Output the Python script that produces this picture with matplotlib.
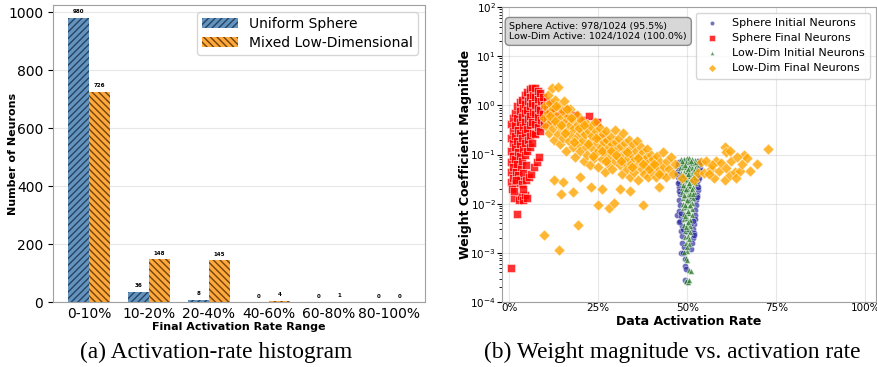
import numpy as np
import matplotlib
matplotlib.use("Agg")
import matplotlib.pyplot as plt
from matplotlib.ticker import PercentFormatter

## **DATA**
# panel (a): histogram of final activation rates
bins = ["0-10%", "10-20%", "20-40%", "40-60%", "60-80%", "80-100%"]
sphere_counts = [980, 36, 8, 0, 0, 0]
lowdim_counts = [726, 148, 145, 4, 1, 0]

# panel (b): (activation rate, weight magnitude)
sphere_initial = [
    (0.476, 0.072), (0.474, 0.055), (0.472, 0.045), (0.475, 0.035), (0.478, 0.028), (0.477, 0.022),
    (0.479, 0.016), (0.470, 0.0058), (0.478, 0.012), (0.480, 0.0095), (0.476, 0.0072), (0.483, 0.0055),
    (0.481, 0.0045), (0.485, 0.0035), (0.482, 0.0028), (0.486, 0.0022), (0.484, 0.0016), (0.483, 0.0010),
    (0.488, 0.0010), (0.491, 0.0013), (0.493, 0.00075), (0.495, 0.00055), (0.497, 0.00048),
    (0.495, 0.00028), (0.499, 0.00025), (0.530, 0.075), (0.532, 0.060), (0.533, 0.048), (0.531, 0.038),
    (0.530, 0.030), (0.528, 0.024), (0.529, 0.019), (0.527, 0.015), (0.526, 0.012), (0.524, 0.0095),
    (0.523, 0.0075), (0.521, 0.006), (0.522, 0.0048), (0.519, 0.0038), (0.517, 0.0030), (0.520, 0.0025),
    (0.515, 0.0020), (0.512, 0.0016), (0.510, 0.0012), (0.495, 0.075), (0.510, 0.060), (0.500, 0.040),
    (0.515, 0.030), (0.490, 0.020), (0.505, 0.012), (0.495, 0.006), (0.510, 0.004), (0.500, 0.0026),
    (0.486, 0.060), (0.520, 0.045), (0.473, 0.065), (0.471, 0.040), (0.474, 0.026), (0.476, 0.018),
    (0.534, 0.068), (0.535, 0.052), (0.533, 0.034), (0.531, 0.022), (0.528, 0.0135), (0.482, 0.0065),
    (0.478, 0.0042), (0.487, 0.0030), (0.516, 0.0045), (0.519, 0.0023),
]
sphere_final = [
    (0.004, 0.42), (0.004, 0.22), (0.004, 0.12), (0.004, 0.07), (0.005, 0.045), (0.006, 0.028),
    (0.010, 0.55), (0.010, 0.30), (0.010, 0.17), (0.011, 0.095), (0.010, 0.055), (0.012, 0.034),
    (0.016, 0.70), (0.016, 0.40), (0.017, 0.24), (0.016, 0.14), (0.017, 0.08), (0.018, 0.045), (0.017, 0.026),
    (0.023, 0.95), (0.023, 0.55), (0.024, 0.32), (0.023, 0.19), (0.024, 0.11), (0.023, 0.065), (0.025, 0.038),
    (0.030, 1.15), (0.030, 0.75), (0.031, 0.45), (0.030, 0.27), (0.031, 0.16), (0.030, 0.095), (0.032, 0.055),
    (0.031, 0.032), (0.037, 1.30), (0.038, 0.90), (0.037, 0.58), (0.038, 0.36), (0.037, 0.22), (0.038, 0.13),
    (0.037, 0.075), (0.039, 0.042), (0.044, 1.60), (0.045, 1.05), (0.044, 0.70), (0.045, 0.45), (0.044, 0.28),
    (0.045, 0.17), (0.044, 0.10), (0.046, 0.06), (0.051, 1.85), (0.052, 1.25), (0.051, 0.82), (0.052, 0.52),
    (0.051, 0.33), (0.052, 0.20), (0.051, 0.12), (0.058, 2.10), (0.059, 1.45), (0.058, 0.95), (0.059, 0.62),
    (0.058, 0.40), (0.059, 0.24), (0.058, 0.14), (0.065, 2.30), (0.066, 1.60), (0.065, 1.10), (0.066, 0.72),
    (0.065, 0.46), (0.066, 0.28), (0.065, 0.17), (0.072, 2.20), (0.073, 1.50), (0.072, 1.00), (0.073, 0.66),
    (0.072, 0.42), (0.073, 0.26), (0.080, 2.00), (0.081, 1.35), (0.080, 0.90), (0.081, 0.58), (0.080, 0.36),
    (0.088, 1.75), (0.089, 1.20), (0.088, 0.80), (0.089, 0.50), (0.088, 0.30), (0.096, 1.50), (0.097, 1.00),
    (0.096, 0.68), (0.097, 0.42), (0.105, 1.25), (0.106, 0.85), (0.105, 0.55), (0.115, 1.05), (0.116, 0.70),
    (0.115, 0.45), (0.128, 0.90), (0.130, 0.60), (0.145, 0.75), (0.160, 0.85), (0.168, 0.55), (0.185, 0.65),
    (0.205, 0.50), (0.225, 0.62), (0.248, 0.45), (0.262, 0.22),
    (0.006, 0.00049), (0.022, 0.0062), (0.013, 0.013), (0.027, 0.012), (0.033, 0.014), (0.038, 0.012),
    (0.045, 0.015), (0.050, 0.013), (0.008, 0.020), (0.015, 0.018), (0.020, 0.030), (0.035, 0.025),
    (0.048, 0.030), (0.055, 0.035), (0.062, 0.040), (0.070, 0.055), (0.078, 0.070), (0.085, 0.09), (0.040, 0.020),
]
lowdim_initial = [
    (0.482, 0.080), (0.490, 0.082), (0.498, 0.084), (0.506, 0.083), (0.514, 0.081), (0.522, 0.078),
    (0.480, 0.065), (0.488, 0.068), (0.496, 0.070), (0.504, 0.069), (0.512, 0.067), (0.520, 0.066), (0.527, 0.062),
    (0.481, 0.052), (0.489, 0.055), (0.497, 0.057), (0.505, 0.056), (0.513, 0.054), (0.521, 0.053), (0.528, 0.050),
    (0.482, 0.042), (0.490, 0.044), (0.498, 0.046), (0.506, 0.045), (0.514, 0.043), (0.522, 0.041),
    (0.483, 0.034), (0.491, 0.036), (0.499, 0.037), (0.507, 0.036), (0.515, 0.035), (0.523, 0.033),
    (0.484, 0.027), (0.492, 0.029), (0.500, 0.030), (0.508, 0.029), (0.516, 0.028), (0.522, 0.026),
    (0.485, 0.021), (0.493, 0.023), (0.501, 0.024), (0.509, 0.023), (0.517, 0.022),
    (0.486, 0.017), (0.494, 0.018), (0.502, 0.019), (0.510, 0.018), (0.518, 0.017),
    (0.487, 0.013), (0.495, 0.014), (0.503, 0.015), (0.511, 0.014), (0.517, 0.013),
    (0.488, 0.010), (0.496, 0.011), (0.504, 0.0115), (0.512, 0.0105),
    (0.489, 0.0080), (0.497, 0.0085), (0.505, 0.0088), (0.513, 0.0078),
    (0.490, 0.0062), (0.498, 0.0066), (0.506, 0.0064), (0.512, 0.0058),
    (0.491, 0.0048), (0.499, 0.0050), (0.507, 0.0047), (0.492, 0.0037), (0.500, 0.0039), (0.508, 0.0035),
    (0.493, 0.0028), (0.501, 0.0030), (0.507, 0.0026), (0.494, 0.0021), (0.502, 0.0022),
    (0.496, 0.0016), (0.504, 0.0015), (0.498, 0.0011), (0.490, 0.00105),
    (0.497, 0.00078), (0.505, 0.00045), (0.510, 0.00042), (0.500, 0.00070),
    (0.496, 0.00027), (0.502, 0.00026), (0.506, 0.00028),
    (0.486, 0.075), (0.494, 0.062), (0.502, 0.050), (0.510, 0.074), (0.518, 0.047), (0.525, 0.070),
    (0.487, 0.038), (0.495, 0.032), (0.503, 0.041), (0.511, 0.031), (0.519, 0.038), (0.489, 0.024),
    (0.497, 0.020), (0.505, 0.026), (0.513, 0.020), (0.491, 0.015), (0.499, 0.012), (0.507, 0.016),
    (0.515, 0.0155), (0.493, 0.0092), (0.501, 0.0072), (0.509, 0.0095), (0.495, 0.0056), (0.503, 0.0043),
    (0.497, 0.0033), (0.505, 0.0019), (0.499, 0.0013),
]
lowdim_final = [
    (0.098, 0.55), (0.100, 0.95), (0.104, 0.38), (0.108, 1.6), (0.110, 0.70), (0.112, 0.28), (0.116, 1.10),
    (0.118, 0.48), (0.120, 2.3), (0.122, 0.85), (0.124, 0.35), (0.126, 0.20), (0.130, 1.3), (0.132, 0.62),
    (0.134, 0.42), (0.136, 0.26), (0.138, 2.4), (0.140, 0.95), (0.142, 0.16), (0.145, 0.55), (0.148, 0.34),
    (0.150, 0.75), (0.152, 0.22), (0.155, 1.2), (0.158, 0.45), (0.160, 0.12), (0.162, 0.30), (0.165, 0.62),
    (0.168, 0.19), (0.170, 0.40), (0.172, 0.85), (0.175, 0.26), (0.178, 0.14), (0.180, 0.52), (0.183, 0.34),
    (0.186, 0.09), (0.188, 0.22), (0.190, 0.65), (0.193, 0.42), (0.196, 0.16), (0.198, 0.28), (0.200, 0.12),
    (0.203, 0.50), (0.206, 0.35), (0.208, 0.20), (0.210, 0.075), (0.213, 0.26), (0.216, 0.14), (0.218, 0.42),
    (0.220, 0.10), (0.223, 0.30), (0.226, 0.18), (0.228, 0.060), (0.230, 0.38), (0.233, 0.24), (0.236, 0.13),
    (0.238, 0.085), (0.240, 0.45), (0.243, 0.30), (0.246, 0.17), (0.248, 0.11), (0.250, 0.055), (0.253, 0.22),
    (0.256, 0.35), (0.258, 0.14), (0.260, 0.08), (0.263, 0.26), (0.266, 0.18), (0.268, 0.045), (0.270, 0.11),
    (0.273, 0.30), (0.276, 0.20), (0.278, 0.065), (0.280, 0.14), (0.283, 0.09), (0.286, 0.23), (0.288, 0.16),
    (0.290, 0.05), (0.293, 0.11), (0.296, 0.32), (0.298, 0.075), (0.300, 0.18), (0.303, 0.13), (0.306, 0.09),
    (0.308, 0.22), (0.310, 0.06), (0.313, 0.15), (0.316, 0.040), (0.318, 0.10), (0.320, 0.27), (0.323, 0.07),
    (0.326, 0.17), (0.328, 0.12), (0.330, 0.05), (0.333, 0.085), (0.336, 0.20), (0.338, 0.035), (0.340, 0.13),
    (0.343, 0.065), (0.346, 0.10), (0.348, 0.16), (0.350, 0.045), (0.353, 0.08), (0.356, 0.12), (0.358, 0.06),
    (0.360, 0.19), (0.363, 0.03), (0.366, 0.095), (0.368, 0.07), (0.370, 0.14), (0.373, 0.05), (0.376, 0.11),
    (0.378, 0.08), (0.380, 0.04), (0.383, 0.06), (0.386, 0.13), (0.388, 0.09), (0.390, 0.035), (0.393, 0.07),
    (0.396, 0.055), (0.398, 0.10), (0.400, 0.045), (0.405, 0.08), (0.410, 0.06), (0.413, 0.035), (0.416, 0.095),
    (0.420, 0.05), (0.424, 0.07), (0.428, 0.04), (0.432, 0.11), (0.436, 0.055), (0.440, 0.035), (0.444, 0.075),
    (0.450, 0.05), (0.455, 0.09), (0.460, 0.04), (0.465, 0.065),
    (0.115, 0.62), (0.128, 0.48), (0.133, 0.95), (0.146, 0.40), (0.157, 0.28), (0.163, 0.85), (0.174, 0.55),
    (0.182, 0.18), (0.195, 0.35), (0.211, 0.40), (0.221, 0.16), (0.235, 0.095), (0.245, 0.22), (0.262, 0.12),
    (0.272, 0.075), (0.285, 0.12), (0.301, 0.10), (0.315, 0.075), (0.331, 0.11), (0.345, 0.055), (0.361, 0.085),
    (0.375, 0.065), (0.392, 0.05), (0.407, 0.065), (0.422, 0.04),
    (0.097, 0.0023), (0.141, 0.00115), (0.192, 0.0037), (0.147, 0.016), (0.178, 0.017), (0.249, 0.0093),
    (0.280, 0.0081), (0.294, 0.0102), (0.375, 0.0095), (0.125, 0.030), (0.150, 0.028), (0.200, 0.035),
    (0.230, 0.022), (0.260, 0.020), (0.310, 0.020), (0.340, 0.018), (0.420, 0.022),
    (0.485, 0.034), (0.520, 0.030), (0.531, 0.043), (0.540, 0.070), (0.548, 0.042), (0.553, 0.075),
    (0.568, 0.050), (0.574, 0.034), (0.580, 0.075), (0.588, 0.047), (0.596, 0.066), (0.605, 0.031),
    (0.605, 0.14), (0.610, 0.11), (0.610, 0.053), (0.619, 0.038), (0.624, 0.075), (0.633, 0.044),
    (0.638, 0.033), (0.647, 0.047), (0.653, 0.065), (0.660, 0.10), (0.667, 0.085), (0.675, 0.047),
    (0.695, 0.065), (0.726, 0.13), (0.620, 0.12), (0.640, 0.09), (0.570, 0.06), (0.560, 0.04),
]
sphere_active = (978, 1024)
lowdim_active = (1024, 1024)

## **FIGURE**
fig = plt.figure(figsize=(8.77, 3.67), dpi=100)
ax1 = fig.add_axes([0.0604, 0.177, 0.424, 0.809])
ax2 = fig.add_axes([0.5724, 0.177, 0.4265, 0.804])

spine_col = "#a0a0a0"

# (a) histogram bars
x = np.arange(len(bins))
w = 0.35
b1 = ax1.bar(x - w/2, sphere_counts, w, color="#4682B4", alpha=0.85, hatch="/////",
             edgecolor="#1d3550", linewidth=0, label="Uniform Sphere")
b2 = ax1.bar(x + w/2, lowdim_counts, w, color="#ff9a1a", alpha=0.85, hatch="\\\\\\\\\\",
             edgecolor="#5a3000", linewidth=0, label="Mixed Low-Dimensional")
for bars in (b1, b2):
    for b in bars:
        ax1.text(b.get_x() + b.get_width()/2, b.get_height() + 12, str(int(b.get_height())),
                 ha="center", va="bottom", fontsize=4, fontweight="bold")
ax1.set_xticks(x)
ax1.set_xticklabels(bins, fontsize=10)
ax1.tick_params(axis="y", labelsize=10)
ax1.tick_params(axis="x", length=0)
ax1.set_ylim(0, 1024)
ax1.set_xlim(-0.6, 5.6)
ax1.set_xlabel("Final Activation Rate Range", fontsize=8, fontweight="bold", labelpad=1)
ax1.set_ylabel("Number of Neurons", fontsize=8, fontweight="bold")
ax1.yaxis.set_label_coords(-0.094, 0.5)
ax1.grid(axis="y", alpha=0.3)
ax1.set_axisbelow(True)
ax1.legend(loc="upper right", fontsize=10, handlelength=2.6, borderpad=0.35, labelspacing=0.35)
for s in ax1.spines.values():
    s.set_color(spine_col)

# (b) scatter
def unzip(pairs):
    r, m = zip(*pairs)
    return np.array(r), np.array(m)

r, m = unzip(sphere_initial)
ax2.scatter(r, m, s=20, marker="o", color="#22229a", alpha=0.65, edgecolors="white", linewidths=0.4,
            label="Sphere Initial Neurons")
r, m = unzip(sphere_final)
ax2.scatter(r, m, s=34, marker="s", color="red", alpha=0.8, edgecolors="white", linewidths=0.4,
            label="Sphere Final Neurons")
r, m = unzip(lowdim_initial)
ax2.scatter(r, m, s=18, marker="^", color="#2e7d2e", alpha=0.75, edgecolors="white", linewidths=0.4,
            label="Low-Dim Initial Neurons")
r, m = unzip(lowdim_final)
ax2.scatter(r, m, s=32, marker="D", color="orange", alpha=0.8, edgecolors="white", linewidths=0.4,
            label="Low-Dim Final Neurons")

ax2.set_yscale("log")
ax2.set_ylim(1e-4, 1e2)
ax2.set_xlim(-0.02, 1.03)
ax2.set_xticks([0, 0.25, 0.5, 0.75, 1.0])
ax2.xaxis.set_major_formatter(PercentFormatter(1.0, decimals=0))
ax2.tick_params(axis="both", labelsize=7.5, pad=1)
ax2.tick_params(axis="x", length=0)
ax2.set_xlabel("Data Activation Rate", fontsize=9, fontweight="bold", labelpad=1)
ax2.set_ylabel("Weight Coefficient Magnitude", fontsize=9, fontweight="bold")
ax2.yaxis.set_label_coords(-0.08, 0.5)
ax2.grid(alpha=0.3)
ax2.set_axisbelow(True)
ax2.legend(loc="upper right", fontsize=8, markerscale=0.7, borderpad=0.5, labelspacing=0.45)
for s in ax2.spines.values():
    s.set_color(spine_col)

txt = (f"Sphere Active: {sphere_active[0]}/{sphere_active[1]} "
       f"({100*sphere_active[0]/sphere_active[1]:.1f}%)\n"
       f"Low-Dim Active: {lowdim_active[0]}/{lowdim_active[1]} "
       f"({100*lowdim_active[0]/lowdim_active[1]:.1f}%)")
ax2.text(0.02, 0.95, txt, transform=ax2.transAxes, fontsize=6.8, va="top", ha="left",
         bbox=dict(boxstyle="round,pad=0.45", facecolor="lightgray", edgecolor="gray", alpha=0.9))

# captions
fig.text(0.246, 0.041, "(a) Activation-rate histogram", fontsize=16.8, family="Liberation Serif",
         ha="center", va="center")
fig.text(0.766, 0.041, "(b) Weight magnitude vs. activation rate", fontsize=16.8,
         family="Liberation Serif", ha="center", va="center")

plt.savefig("out.png", dpi=100)
